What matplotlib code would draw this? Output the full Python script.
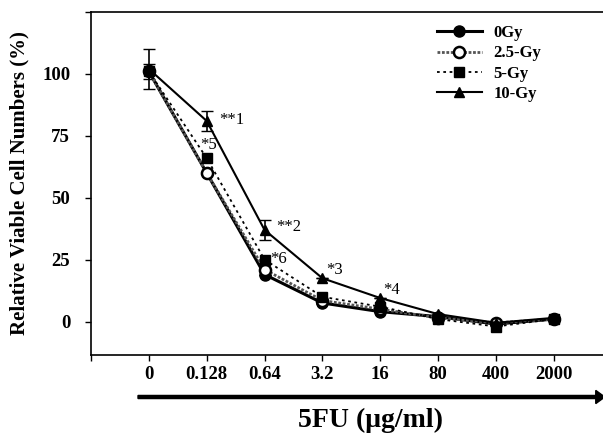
import matplotlib
matplotlib.use("Agg")
import matplotlib.pyplot as plt
from matplotlib.lines import Line2D
import numpy as np

plt.rcParams['font.family'] = ['Liberation Serif', 'DejaVu Serif']

doses = ["0", "0.128", "0.64", "3.2", "16", "80", "400", "2000"]
gy0 = [101, 60, 19, 7.5, 4, 2, -1, 1]
gy25 = [101, 60, 21, 8.5, 5, 1.5, -0.5, 1]
gy5 = [101, 66, 25, 10, 6, 1, -2, 1]
gy10 = [102, 81, 37, 17.5, 9.5, 3, -0.5, 1.5]
err0 = [3, 0, 0, 0, 0, 0, 0, 0]
err10 = [8, 4, 4, 0, 0, 0, 0, 0]
yticks = [0, 25, 50, 75, 100]

annot_text = ["**1", "*5", "**2", "*6", "*3", "*4"]
annot_x = [1.44, 1.04, 2.41, 2.24, 3.21, 4.19]
annot_y = [81.5, 71.4, 38.3, 25.4, 21.0, 12.9]

fig = plt.figure(figsize=(6.03, 4.40), dpi=100)
ax = fig.add_axes([91/603, 1-355/440, 1-91/603, (355-12)/440])

x = np.arange(len(doses))
st0 = dict(color='black', lw=2.2, marker='o', ms=8)
st25 = dict(color='#555555', lw=2.0, ls=(0, (1, 0.6)), marker='o', ms=8,
            mfc='white', mec='black', mew=1.8)
st5 = dict(color='black', lw=1.3, ls=(0, (1.5, 2)), marker='s', ms=7)
st10 = dict(color='black', lw=1.5, marker='^', ms=7)

ax.errorbar(x, gy0, yerr=err0, capsize=4, elinewidth=1.2, zorder=3, **st0)
ax.plot(x, gy25, zorder=4, **st25)
ax.plot(x, gy5, zorder=4, **st5)
ax.errorbar(x, gy10, yerr=err10, capsize=4, elinewidth=1.2, zorder=5, **st10)

for t, xi, yi in zip(annot_text, annot_x, annot_y):
    ax.text(xi, yi, t, fontsize=12, ha='center', va='center')

ax.set_xlim(-1, 7.85)
ax.set_ylim(-13.5, 125)
ax.set_yticks(yticks + [125])
ax.set_yticklabels([str(v) for v in yticks] + [''])
ax.set_xticks(list(x) + [-1])
ax.set_xticklabels(doses + [''])
for lab in ax.get_xticklabels() + ax.get_yticklabels():
    lab.set_fontsize(13.5)
    lab.set_fontweight('bold')
ax.tick_params(axis='x', direction='out', length=4, width=1, pad=4)
ax.tick_params(axis='y', direction='out', length=4, width=1, pad=11)
ax.spines['right'].set_visible(False)
for s in ['left', 'bottom', 'top']:
    ax.spines[s].set_linewidth(1.2)

ax.set_ylabel('Relative Viable Cell Numbers (%)', fontsize=15, fontweight='bold',
              labelpad=9)

handles = [Line2D([], [], **st0), Line2D([], [], **st25),
           Line2D([], [], **st5), Line2D([], [], **st10)]
leg = ax.legend(handles, ['0Gy', '2.5-Gy', '5-Gy', '10-Gy'],
                loc='upper left', bbox_to_anchor=(0.646, 1.005), frameon=False,
                fontsize=12, handlelength=2.7, labelspacing=0.25,
                handletextpad=0.7)
for t in leg.get_texts():
    t.set_fontweight('bold')

fig.patches.append(matplotlib.patches.FancyArrow(
    138/603, 1-397/440, (603-138)/603 - 0.012, 0, width=0.007,
    head_width=0.03, head_length=0.015, color='black',
    transform=fig.transFigure, length_includes_head=False))

fig.text(371/603, 1-420/440, '5FU (μg/ml)', fontsize=20, fontweight='bold',
         ha='center', va='center')

fig.savefig('out.png', dpi=100)
